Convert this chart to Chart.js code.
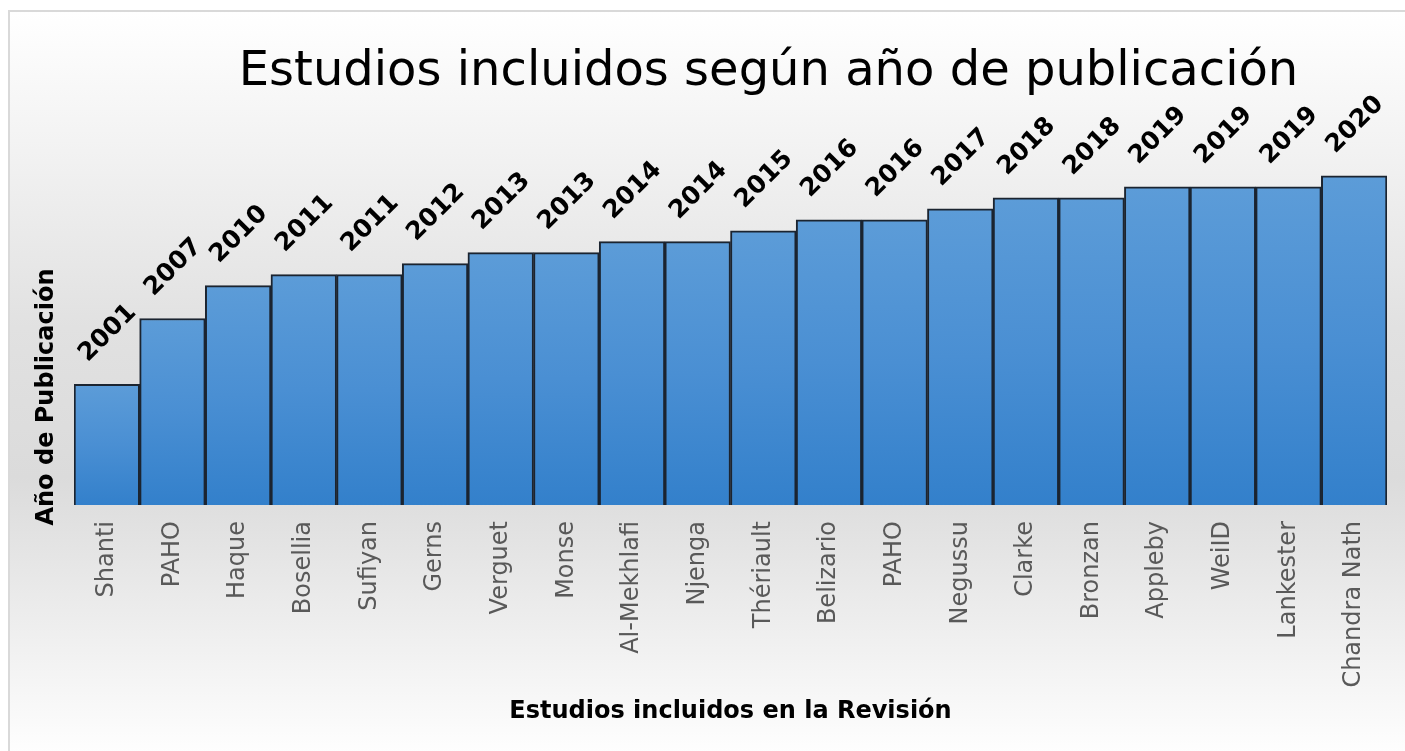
<!DOCTYPE html>
<html>
<head>
<meta charset="utf-8">
<script src="https://cdn.jsdelivr.net/npm/chart.js@4"></script>
<style>
    html, body { margin: 0; padding: 0; width: 1405px; height: 751px; overflow: hidden; background: #fff; }
    #marco {
        position: absolute; left: 8px; top: 10px; width: 1410px; height: 750px;
        border: 2px solid #d9d9d9;
        background: linear-gradient(to bottom, #ffffff 0%, #f1f1f1 20%, #e1e1e1 42%, #dbdbdb 62%, #f0f0f0 84%, #ffffff 100%);
    }
    #lienzo { position: absolute; left: 0; top: 0; }
</style>
</head>
<body>
<div id="marco"></div>
<canvas id="lienzo" width="1405" height="751"></canvas>
<script>
// Datos del gráfico
const estudios = ['Shanti', 'PAHO', 'Haque', 'Bosellia', 'Sufiyan', 'Gerns', 'Verguet', 'Monse',
    'Al-Mekhlafi', 'Njenga', 'Thériault', 'Belizario', 'PAHO', 'Negussu', 'Clarke', 'Bronzan',
    'Appleby', 'WeiID', 'Lankester', 'Chandra Nath'];
const anios = [2001, 2007, 2010, 2011, 2011, 2012, 2013, 2013, 2014, 2014,
    2015, 2016, 2016, 2017, 2018, 2018, 2019, 2019, 2019, 2020];
const ejeMin = 1990;
const ejeMax = 2025;

const tituloPrincipal = 'Estudios incluidos según año de publicación';
const tituloEjeY = 'Año de Publicación';
const tituloEjeX = 'Estudios incluidos en la Revisión';

// Degradado de cada barra (claro arriba, oscuro abajo)
const rellenoBarra = (context) => {
    const chart = context.chart;
    if (!chart.chartArea || context.dataIndex === undefined) return '#4a8fd2';
    const y = chart.scales.y;
    const arriba = y.getPixelForValue(context.raw);
    const abajo = y.getPixelForValue(ejeMin);
    if (!isFinite(arriba) || !isFinite(abajo) || arriba === abajo) return '#4a8fd2';
    const g = chart.ctx.createLinearGradient(0, arriba, 0, abajo);
    g.addColorStop(0, '#5c9cd8');
    g.addColorStop(0.5, '#4a8fd3');
    g.addColorStop(1, '#3380cb');
    return g;
};

// Etiquetas de valor giradas y títulos
const textosExtra = {
    id: 'textosExtra',
    afterDatasetsDraw(chart) {
        const ctx = chart.ctx;
        const meta = chart.getDatasetMeta(0);
        ctx.save();
        ctx.fillStyle = '#000';
        ctx.font = 'bold 25px "DejaVu Sans"';
        ctx.textAlign = 'center';
        ctx.textBaseline = 'middle';
        meta.data.forEach((barra, i) => {
            ctx.save();
            ctx.translate(barra.x + 1, barra.y - 51);
            ctx.rotate(-Math.PI / 4);
            ctx.fillText(String(anios[i]), 0, 0);
            ctx.restore();
        });
        ctx.restore();
    },
    afterDraw(chart) {
        const ctx = chart.ctx;
        const area = chart.chartArea;
        ctx.save();
        ctx.fillStyle = '#000';
        ctx.font = '48px "DejaVu Sans"';
        ctx.textAlign = 'center';
        ctx.textBaseline = 'alphabetic';
        ctx.fillText(tituloPrincipal, (area.left + area.right) / 2 + 38, 85);

        ctx.font = 'bold 24px "DejaVu Sans"';
        ctx.textBaseline = 'middle';
        ctx.translate(47, area.bottom - 108);
        ctx.rotate(-Math.PI / 2);
        ctx.fillText(tituloEjeY, 0, 0);
        ctx.restore();
    }
};

const crearGrafico = () => {
    const ctx = document.getElementById('lienzo').getContext('2d');
    new Chart(ctx, {
        type: 'bar',
        data: {
            labels: estudios,
            datasets: [{
                label: tituloEjeY,
                data: anios,
                backgroundColor: rellenoBarra,
                borderColor: '#1b2430',
                borderWidth: 2,
                borderSkipped: false,
                categoryPercentage: 1,
                barPercentage: 1
            }]
        },
        options: {
            responsive: false,
            animation: false,
            layout: { padding: { left: 74, right: 18, top: 121, bottom: 0 } },
            plugins: {
                legend: { display: false },
                tooltip: { enabled: false },
                title: { display: false }
            },
            scales: {
                x: {
                    grid: { display: false, drawTicks: false },
                    border: { display: false },
                    ticks: {
                        color: '#595959',
                        font: { family: 'DejaVu Sans', size: 24 },
                        minRotation: 90,
                        maxRotation: 90,
                        padding: 16,
                        autoSkip: false
                    },
                    title: {
                        display: true,
                        text: tituloEjeX,
                        color: '#000',
                        font: { family: 'DejaVu Sans', size: 24, weight: 'bold' },
                        padding: { top: 0, bottom: 25 }
                    },
                    afterFit: (scale) => { scale.height = 246; }
                },
                y: {
                    display: false,
                    min: ejeMin,
                    max: ejeMax
                }
            }
        },
        plugins: [textosExtra]
    });
};

document.addEventListener('DOMContentLoaded', crearGrafico);
</script>
</body>
</html>
